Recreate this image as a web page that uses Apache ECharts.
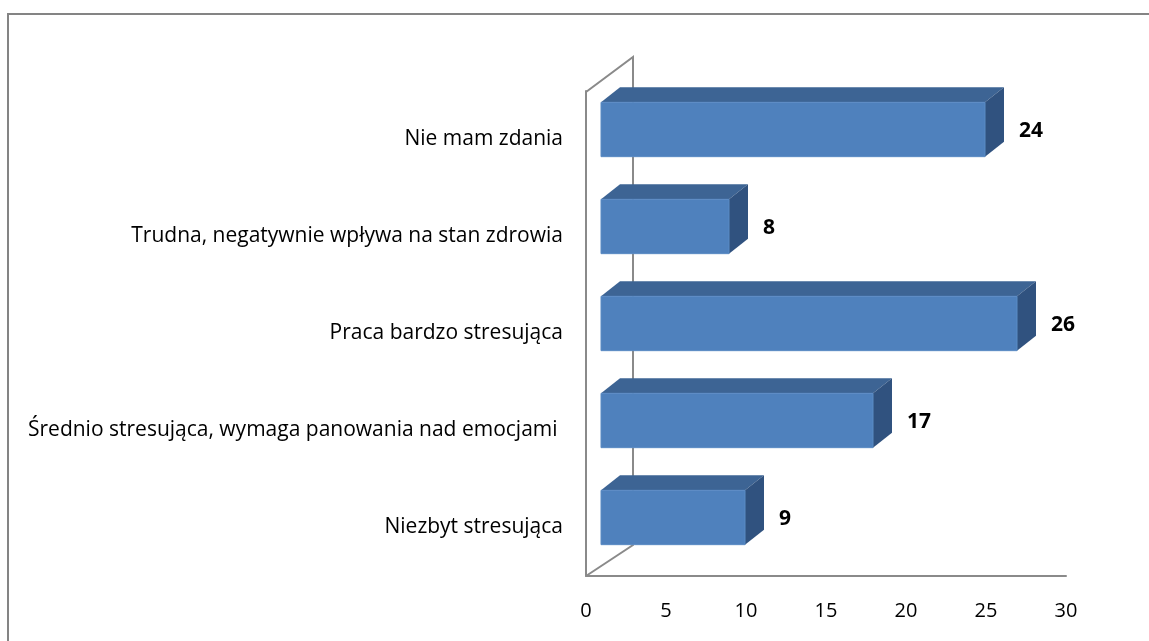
<!DOCTYPE html>
<html><head><meta charset="utf-8">
<script src="https://cdn.jsdelivr.net/npm/echarts@6/dist/echarts.min.js"></script>
<style>html,body{margin:0;padding:0;background:#fff}#c{width:1149px;height:641px}</style>
</head><body><div id="c"></div>
<script>
const categories = [
  'Nie mam zdania',
  'Trudna, negatywnie wpływa na stan zdrowia',
  'Praca bardzo stresująca',
  'Średnio stresująca, wymaga panowania nad emocjami ',
  'Niezbyt stresująca'
];
const values = [24, 8, 26, 17, 9];
const axisMin = 0, axisMax = 30, axisStep = 5;

const FONT = '"Open Sans", Lato, sans-serif';
const LINE = '#8a8a8a';
const chart = echarts.init(document.getElementById('c'), null, {renderer: 'canvas'});

function renderItem(params, api) {
  const v = api.value(0), c = api.value(1);
  const p0 = api.coord([0, c]);
  const p1 = api.coord([v, c]);
  const band = api.size([0, 1])[1];
  const h = band * 0.56;
  const fx = 15, fy = -10, dx = 19, dy = -15;
  const x0 = p0[0] + fx, x1 = p1[0] + fx;
  const yT = p0[1] + fy - h / 2, yB = yT + h;
  return {
    type: 'group',
    children: [
      {type: 'polygon', shape: {points: [[x0, yT], [x1, yT], [x1 + dx, yT + dy], [x0 + dx, yT + dy]]},
       style: {fill: '#3D6494'}},
      {type: 'polygon', shape: {points: [[x1, yT], [x1 + dx, yT + dy], [x1 + dx, yB + dy], [x1, yB]]},
       style: {fill: '#30527F'}},
      {type: 'rect', shape: {x: x0, y: yT, width: x1 - x0, height: h},
       style: {fill: '#4F81BD', stroke: '#5B8BC4', lineWidth: 1}},
      {type: 'text', x: x1 + dx + 15, y: yT + h / 2 + 2,
       style: {text: String(v), fill: '#000', font: 'bold 21px ' + FONT, verticalAlign: 'middle', align: 'left'}}
    ]
  };
}

chart.setOption({
  animation: false,
  backgroundColor: '#fff',
  grid: {left: 586, right: 83, top: 91, bottom: 65, containLabel: false},
  xAxis: {
    type: 'value', min: axisMin, max: axisMax, interval: axisStep,
    axisLine: {show: true, lineStyle: {color: LINE, width: 2}},
    axisTick: {show: false}, splitLine: {show: false},
    axisLabel: {color: '#000', fontSize: 20, fontFamily: FONT, margin: 25}
  },
  yAxis: {
    type: 'category', data: categories, inverse: true,
    axisLine: {show: true, lineStyle: {color: LINE, width: 2}},
    axisTick: {show: false},
    axisLabel: {color: '#000', fontSize: 21, fontFamily: FONT, margin: 23, padding: [5, 0, 0, 0]}
  },
  series: [{
    type: 'custom', renderItem: renderItem, clip: false, z: 5,
    encode: {x: 0, y: 1},
    data: values.map((v, i) => [v, i])
  }]
});

const gx0 = chart.convertToPixel({xAxisIndex: 0}, axisMin);
const yTopCat = chart.convertToPixel({yAxisIndex: 0}, 0);
const band = chart.convertToPixel({yAxisIndex: 0}, 1) - yTopCat;
const gTop = yTopCat - band / 2;
const gBot = chart.convertToPixel({yAxisIndex: 0}, categories.length - 1) + band / 2;
const wdx = 47;
chart.setOption({
  graphic: [
    {type: 'polyline', z: 0, shape: {points: [[8, 641], [8, 14], [1149, 14]]}, style: {stroke: '#848484', lineWidth: 2, fill: null}},
    {type: 'polyline', z: 0, shape: {points: [[gx0, gTop + 1], [gx0 + wdx, gTop - 34], [gx0 + wdx, gBot - 31], [gx0, gBot]]},
     style: {stroke: LINE, lineWidth: 2, fill: null}}
  ]
});
</script></body></html>
